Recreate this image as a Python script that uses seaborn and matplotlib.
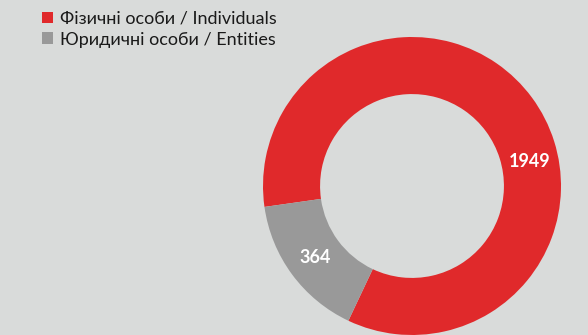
import numpy as np
import matplotlib
matplotlib.use("Agg")
import matplotlib.pyplot as plt
import seaborn as sns

# Registered persons by type
categories = ["Фізичні особи / Individuals", "Юридичні особи / Entities"]
values = [1949, 364]
value_labels = ["1949", "364"]

BG = "#d9dbda"
RED = "#e0292b"
GREY = "#999999"

sns.set_theme(style="white", rc={"figure.facecolor": BG, "axes.facecolor": BG})
plt.rcParams["font.family"] = ["Lato", "DejaVu Sans"]

fig = plt.figure(figsize=(5.88, 3.35), dpi=100)
ax = fig.add_axes([263 / 588, 0, 298 / 588, 298 / 335])

palette = sns.color_palette([RED, GREY])
total = sum(values)
grey_deg = 360 * values[1] / total
grey_mid = 216.4
start = grey_mid + grey_deg / 2  # first wedge (red) starts where the grey one ends

wedges, _ = ax.pie(values, colors=palette, startangle=start, counterclock=True,
                   radius=1.0, wedgeprops=dict(width=0.383, edgecolor="none"))
ax.set_xlim(-1, 1)
ax.set_ylim(-1, 1)
ax.set_aspect("equal")
ax.axis("off")

# value labels on the ring
ring_mid = 1 - 0.383 / 2
label_angles = [11.5, grey_mid]
for txt, ang in zip(value_labels, label_angles):
    a = np.deg2rad(ang)
    ax.text(ring_mid * np.cos(a), ring_mid * np.sin(a), txt, ha="center", va="center",
            color="white", fontsize=13, fontweight="bold")

leg = fig.legend(wedges, categories, loc="upper left", bbox_to_anchor=(42 / 588, 0.968),
                 frameon=False, fontsize=13, handlelength=0.6, handleheight=0.6,
                 handletextpad=0.38, labelspacing=0.27, borderaxespad=0, borderpad=0)
for t in leg.get_texts():
    t.set_color("#1a1a1a")

fig.savefig("out.png", dpi=100, facecolor=BG)
